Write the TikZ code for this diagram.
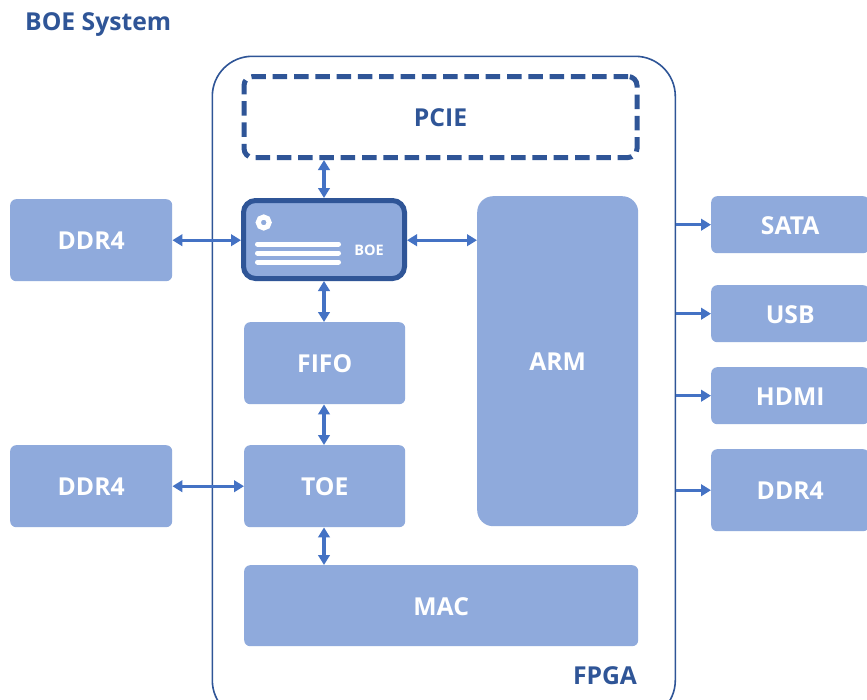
\documentclass[tikz,border=0pt]{standalone}
\usepackage{fontspec}
\setmainfont{Open Sans}
\usetikzlibrary{arrows.meta,calc}
\definecolor{boxfill}{HTML}{8FAADC}
\definecolor{navy}{HTML}{2F5597}
\definecolor{arrowblue}{HTML}{4472C4}
\tikzset{
  x=1pt,y=-1pt,
  block/.style={fill=boxfill,draw=none,rounded corners=#1,inner sep=0pt,font=\bfseries\fontsize{24.7}{28}\selectfont,text=white,anchor=north west,text height=19.5pt,text depth=0pt},
  block/.default=6pt,
  both/.style={draw=arrowblue,line width=3.2pt,{Triangle[length=10pt,width=11.5pt]}-{Triangle[length=10pt,width=11.5pt]}},
  one/.style={draw=arrowblue,line width=3.2pt,-{Triangle[length=10pt,width=11.5pt]}},
  navylabel/.style={text=navy,font=\bfseries\fontsize{24.7}{28}\selectfont,inner sep=0pt},
  whitebar/.style={draw=white,line width=5pt,line cap=round},
}
\begin{document}
\begin{tikzpicture}
\useasboundingbox (0,0) rectangle (867,699);
\clip (0,0) rectangle (867,699);
\fill[white] (0,0) rectangle (867,699);
\node[navylabel,anchor=west] (title) at (25,25) {BOE System};
\node[draw=navy,line width=1.6pt,rounded corners=40pt,minimum width=463pt,minimum height=664pt,inner sep=0pt,anchor=north west] (fpga) at (211.5,55.5) {};
\node[navylabel] (fpgalabel) at (605,675.5) {FPGA};
\node[draw=navy,line width=5pt,dash pattern=on 14.5pt off 6.8pt,rounded corners=9pt,minimum width=393pt,minimum height=81pt,inner sep=0pt,anchor=north west,text=navy,font=\bfseries\fontsize{24.7}{28}\selectfont,text height=19.5pt,text depth=0pt] (pcie) at (241.5,74) {PCIE};
\node[block,minimum width=162pt,minimum height=82pt] (ddra) at (10,199) {DDR4};
\node[block,minimum width=162pt,minimum height=82pt] (ddrb) at (10,445) {DDR4};
\node[block,draw=navy,line width=5pt,rounded corners=12pt,minimum width=161pt,minimum height=78pt] (boe) at (241,198) {};
\node[text=white,font=\bfseries\fontsize{14.5}{17}\selectfont,inner sep=0pt] (boetext) at (369,250) {BOE};
\node[draw=white,line width=5pt,fill=boxfill,circle,minimum size=11pt,inner sep=0pt] (boedot) at (263.7,222.5) {};
\draw[whitebar] (257.5,244) -- (338.5,244);
\draw[whitebar] (257.5,253) -- (338.5,253);
\draw[whitebar] (257.5,262) -- (338.5,262);
\node[block,minimum width=161pt,minimum height=82pt] (fifo) at (244,322) {FIFO};
\node[block,minimum width=161pt,minimum height=82pt] (toe) at (244,445) {TOE};
\node[block,minimum width=394pt,minimum height=81pt] (mac) at (244,565) {MAC};
\node[block=16pt,minimum width=161pt,minimum height=330pt] (arm) at (477,196) {ARM};
\node[block,minimum width=158pt,minimum height=57pt] (sata) at (711,196) {SATA};
\node[block,minimum width=158pt,minimum height=57pt] (usb) at (711,285) {USB};
\node[block,minimum width=158pt,minimum height=57pt] (hdmi) at (711,367) {HDMI};
\node[block,minimum width=158pt,minimum height=82pt] (ddrc) at (711,449) {DDR4};
\coordinate (px) at (324,0);
\draw[both] (px |- pcie.south) -- (px |- boe.north);
\draw[both] (px |- boe.south) -- (px |- fifo.north);
\draw[both] (px |- fifo.south) -- (px |- toe.north);
\draw[both] (px |- toe.south) -- (px |- mac.north);
\draw[both] (ddra.east) -- (ddra.east -| boe.west);
\draw[both] (ddra.east -| boe.east) -- (ddra.east -| arm.west);
\draw[both] (ddrb.east) -- (toe.west);
\draw[one] (fpga.east |- sata.west) -- (sata.west);
\draw[one] (fpga.east |- usb.west) -- (usb.west);
\draw[one] (fpga.east |- hdmi.west) -- (hdmi.west);
\draw[one] (fpga.east |- ddrc.west) -- (ddrc.west);
\end{tikzpicture}
\end{document}
